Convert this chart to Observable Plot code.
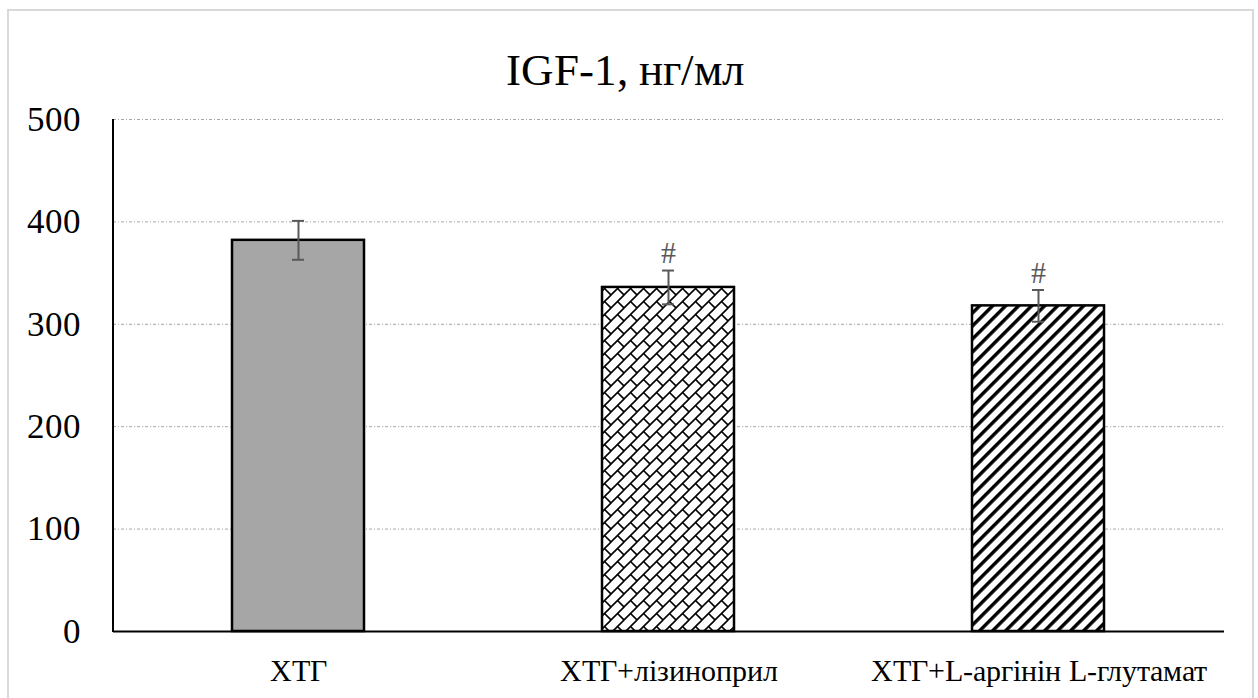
<!DOCTYPE html>
<html><head><meta charset="utf-8">
<script src="https://cdn.jsdelivr.net/npm/d3@7"></script>
<script src="https://cdn.jsdelivr.net/npm/@observablehq/plot@0.6"></script>
<style>
@font-face{font-family:"ChartSerif";src:local("Liberation Serif"),local("LiberationSerif"),local("LiberationSerif-Regular"),local("Times New Roman"),local("DejaVu Serif");font-weight:normal;font-style:normal;}
body{margin:0;background:#fff;}
#wrap, #wrap *{font-family:ChartSerif,'Liberation Serif',serif !important;}
#wrap{position:relative;width:1258px;height:698px;overflow:hidden;background:#fff;}
#frame{position:absolute;left:7px;top:9px;width:1247px;height:720px;border:2px solid #d9d9d9;box-sizing:border-box;pointer-events:none;}
#title{position:relative;height:100px;}
#title span{position:absolute;left:0;width:1250px;text-align:center;top:48px;font-size:45px;line-height:45px;color:#000;}
#chart svg{display:block;}
</style></head>
<body>
<div id="wrap"><div id="frame"></div><div id="title"><span>IGF-1, нг/мл</span></div><div id="chart"></div></div>
<script>
// ---- data ----
const categories = ["ХТГ", "ХТГ+лізиноприл", "ХТГ+L-аргінін L-глутамат"];
const means = [382, 336, 318];
const errors = [19, 16.5, 15.5];
const signif = ["", "#", "#"];
const yTicks = [0, 100, 200, 300, 400, 500];

// ---- styles ----
const barFills = ["#a6a6a6", "url(#brick)", "url(#stripes)"];
const errColor = "#595959";
const serif = "ChartSerif,'Liberation Serif',serif";

const data = categories.map((c, i) => ({cat: c, mean: means[i], lo: means[i] - errors[i], hi: means[i] + errors[i], sig: signif[i]}));

const svg = Plot.plot({
  width: 1258, height: 598,
  marginTop: 19, marginBottom: 67, marginLeft: 113, marginRight: 34,
  style: {fontFamily: serif, background: "transparent", overflow: "visible", color: "#000"},
  x: {domain: categories, paddingInner: 0.643, paddingOuter: 0.3215, label: null},
  y: {domain: [0, 500], label: null},
  marks: [
    Plot.gridY(yTicks.filter(t => t > 0), {stroke: "#a6a6a6", strokeOpacity: 1, strokeWidth: 1, strokeDasharray: "3 2 1 2"}),
    ...categories.map((c, i) => Plot.barY(data.filter(d => d.cat === c), {x: "cat", y: "mean", fill: barFills[i], stroke: "#000", strokeWidth: 2.5})),
    Plot.ruleX(data, {x: "cat", y1: "lo", y2: "hi", stroke: errColor, strokeWidth: 2}),
    Plot.tickY(data, {x: "cat", y: "hi", stroke: errColor, strokeWidth: 2, insetLeft: 60, insetRight: 60}),
    Plot.tickY(data, {x: "cat", y: "lo", stroke: errColor, strokeWidth: 2, insetLeft: 60, insetRight: 60}),
    Plot.text(data, {x: "cat", y: "hi", text: "sig", dy: -17, fontSize: 30, fill: errColor, fontFamily: serif}),
    Plot.ruleY([0], {stroke: "#000", strokeWidth: 2}),
    Plot.axisY({ticks: yTicks, tickSize: 0, tickPadding: 33, fontSize: 35, label: null, fontFamily: serif}),
    Plot.axisX({tickSize: 0, tickPadding: 28, fontSize: 30, label: null, fontFamily: serif})
  ]
});

// vertical axis line, placed with the plot's own scales
const xs = svg.scale("x"), ys = svg.scale("y");
d3.select(svg).append("line")
  .attr("x1", xs.range[0]).attr("x2", xs.range[0])
  .attr("y1", ys.apply(ys.domain[0]) + 1).attr("y2", ys.apply(ys.domain[1]))
  .attr("stroke", "#000").attr("stroke-width", 2);

const defs = d3.select(svg).insert("defs", ":first-child");
const s = 13;
const brick = defs.append("pattern").attr("id", "brick").attr("patternUnits", "userSpaceOnUse")
  .attr("width", s).attr("height", s);
brick.append("rect").attr("width", s).attr("height", s).attr("fill", "#fff");
[[ -1, s + 1, s + 1, -1], [s / 2, s / 2, s + 1, s + 1], [-1, 1, 1, -1], [s - 1, s + 1, s + 1, s - 1]].forEach(([x1, y1, x2, y2]) =>
  brick.append("line").attr("x1", x1).attr("y1", y1).attr("x2", x2).attr("y2", y2).attr("stroke", "#000").attr("stroke-width", 1.6));
const p = s / Math.SQRT2;
const stripes = defs.append("pattern").attr("id", "stripes").attr("patternUnits", "userSpaceOnUse")
  .attr("width", p).attr("height", p).attr("patternTransform", "rotate(45)");
stripes.append("rect").attr("width", p).attr("height", p).attr("fill", "#fff");
stripes.append("rect").attr("width", p * 3 / 8).attr("height", p).attr("fill", "#000");

document.getElementById("chart").appendChild(svg);
</script>
</body></html>
